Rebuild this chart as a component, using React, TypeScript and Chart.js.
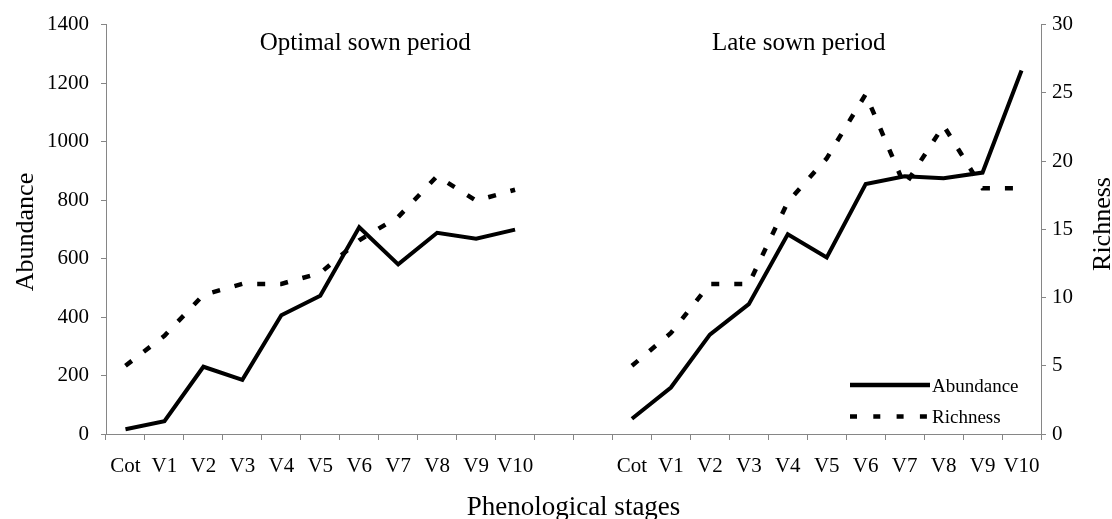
import React, { useEffect, useRef } from 'react';
import { Chart, registerables } from 'chart.js';

Chart.register(...registerables);

// ---- data ----
const stages = ['Cot', 'V1', 'V2', 'V3', 'V4', 'V5', 'V6', 'V7', 'V8', 'V9', 'V10'];
const gapLabels = ['', ''];
const optimalAbundance = [16, 44, 230, 185, 406, 473, 707, 580, 688, 668, 699];
const optimalRichness = [5, 7.2, 10.2, 11, 11, 11.8, 14.2, 15.9, 18.9, 17.1, 17.9];
const lateAbundance = [52, 159, 340, 444, 683, 604, 855, 881, 875, 894, 1243];
const lateRichness = [5, 7.4, 11, 11, 17, 20.2, 24.9, 18.2, 22.6, 18, 18];
const gapValues = [null, null];

const panelTitles = ['Optimal sown period', 'Late sown period'];
const seriesNames = ['Abundance', 'Richness'];
const xTitle = 'Phenological stages';
const yTitle = 'Abundance';
const y1Title = 'Richness';
const abundanceRange = [0, 1400, 200];
const richnessRange = [0, 30, 5];

const labels = [...stages, ...gapLabels, ...stages];
const abundanceData = [...optimalAbundance, ...gapValues, ...lateAbundance];
const richnessData = [...optimalRichness, ...gapValues, ...lateRichness];

const FONT = '"Liberation Serif", "Times New Roman", serif';
const AXIS_GRAY = '#868686';

const overlayPlugin = {
  id: 'overlay',
  afterDraw(chart: any) {
    const { ctx, chartArea: ca } = chart;
    const xs = chart.scales.x;
    ctx.save();
    ctx.fillStyle = '#000';
    ctx.strokeStyle = '#000';
    ctx.textBaseline = 'alphabetic';

    // panel titles
    ctx.font = `25px ${FONT}`;
    ctx.textAlign = 'center';
    ctx.fillText(panelTitles[0], xs.getPixelForValue(6) + 6, 50);
    ctx.fillText(panelTitles[1], xs.getPixelForValue(17) + 11, 50);

    // axis titles
    ctx.font = `27px ${FONT}`;
    ctx.fillText(xTitle, (ca.left + ca.right) / 2, 515);
    ctx.font = `26px ${FONT}`;
    ctx.save();
    ctx.translate(33, 232);
    ctx.rotate(-Math.PI / 2);
    ctx.fillText(yTitle, 0, 0);
    ctx.restore();
    ctx.save();
    ctx.translate(1110, 224);
    ctx.rotate(-Math.PI / 2);
    ctx.fillText(y1Title, 0, 0);
    ctx.restore();

    // legend
    const lx0 = ca.right - 191;
    const lx1 = ca.right - 111;
    ctx.lineWidth = 4.5;
    ctx.lineCap = 'butt';
    ctx.beginPath();
    ctx.moveTo(lx0, 385);
    ctx.lineTo(lx1, 385);
    ctx.stroke();
    ctx.setLineDash([7, 16.3]);
    ctx.beginPath();
    ctx.moveTo(lx0, 416.5);
    ctx.lineTo(lx1 - 3, 416.5);
    ctx.stroke();
    ctx.setLineDash([]);
    ctx.font = `19px ${FONT}`;
    ctx.textAlign = 'left';
    ctx.fillText(seriesNames[0], lx1 + 2, 391.5);
    ctx.fillText(seriesNames[1], lx1 + 2, 423);
    ctx.restore();
  },
};

export default function App() {
  const ref = useRef<HTMLCanvasElement>(null);

  useEffect(() => {
    const tickFont = { family: FONT, size: 21 };
    const chart = new Chart(ref.current as HTMLCanvasElement, {
      type: 'line',
      data: {
        labels,
        datasets: [
          {
            label: seriesNames[0],
            data: abundanceData,
            yAxisID: 'y',
            borderColor: '#000',
            backgroundColor: '#000',
            borderWidth: 4,
            pointRadius: 0,
            spanGaps: false,
            tension: 0,
          },
          {
            label: seriesNames[1],
            data: richnessData,
            yAxisID: 'y1',
            borderColor: '#000',
            backgroundColor: '#000',
            borderWidth: 4.5,
            borderDash: [8, 15],
            borderCapStyle: 'butt',
            pointRadius: 0,
            spanGaps: false,
            tension: 0,
          },
        ],
      },
      options: {
        responsive: false,
        animation: false,
        devicePixelRatio: 1,
        layout: { padding: { top: 21, left: 0, right: 0, bottom: 0 } },
        plugins: {
          legend: { display: false },
          tooltip: { enabled: false },
          title: { display: false },
        },
        scales: {
          x: {
            type: 'category',
            offset: true,
            grid: {
              offset: true,
              drawOnChartArea: false,
              drawTicks: true,
              tickLength: 6,
              color: AXIS_GRAY,
            },
            border: { color: AXIS_GRAY, width: 1 },
            ticks: {
              color: '#000',
              font: tickFont,
              padding: 14,
              autoSkip: false,
              maxRotation: 0,
              minRotation: 0,
            },
            afterFit: (s: any) => {
              s.height = 85;
            },
          },
          y: {
            position: 'left',
            min: abundanceRange[0],
            max: abundanceRange[1],
            grid: { drawOnChartArea: false, tickLength: 5, color: AXIS_GRAY },
            border: { color: AXIS_GRAY, width: 1 },
            ticks: {
              stepSize: abundanceRange[2],
              color: '#000',
              font: tickFont,
              padding: 12,
              callback: (v: any) => String(v),
            },
            afterFit: (s: any) => {
              s.width = 106;
            },
          },
          y1: {
            position: 'right',
            min: richnessRange[0],
            max: richnessRange[1],
            grid: { drawOnChartArea: false, tickLength: 5, color: AXIS_GRAY },
            border: { color: AXIS_GRAY, width: 1 },
            ticks: {
              stepSize: richnessRange[2],
              color: '#000',
              font: tickFont,
              padding: 6,
              callback: (v: any) => String(v),
            },
            afterFit: (s: any) => {
              s.width = 71;
            },
          },
        },
      },
      plugins: [overlayPlugin],
    } as any);
    return () => chart.destroy();
  }, []);

  return (
    <div
      style={{
        position: 'fixed',
        left: 0,
        top: 0,
        width: 1112,
        height: 519,
        background: '#fff',
      }}
    >
      <canvas ref={ref} width={1112} height={519} style={{ display: 'block' }} />
    </div>
  );
}
